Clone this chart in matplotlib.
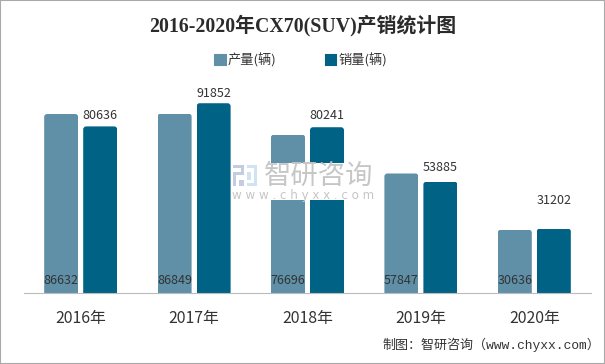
import matplotlib
matplotlib.use('Agg')
import matplotlib.pyplot as plt
import numpy as np
from matplotlib.patches import FancyBboxPatch, Patch, Rectangle
from matplotlib.transforms import IdentityTransform

W, H = 605, 364
CJK = 'Noto Sans CJK SC'

years = ['2016年', '2017年', '2018年', '2019年', '2020年']
output = [86632, 86849, 76696, 57847, 30636]
sales = [80636, 91852, 80241, 53885, 31202]
sales_label_gap = [11, 10, 12, 14, 28]

c_output = '#5F90A8'
c_sales = '#006386'
c_text = '#333333'


def px_rect(x, y, w, h, color, zorder=5):
    # y counted from the top of the picture, like in the screenshot
    fig.add_artist(Rectangle((x / W, 1 - (y + h) / H), w / W, h / H, transform=fig.transFigure,
                             facecolor=color, edgecolor='none', zorder=zorder))


def round_tops(bars, radius=3):
    fig.canvas.draw()
    for bar in bars:
        (x0, y0), (x1, y1) = bar.get_window_extent().get_points()
        clip = FancyBboxPatch((x0 + radius, y0 - 20), x1 - x0 - 2 * radius, y1 - y0 + 20 - radius,
                              boxstyle=f'round,pad={radius},rounding_size={radius}',
                              transform=IdentityTransform())
        bar.set_clip_path(clip)


plt.rcParams['font.family'] = [CJK, 'DejaVu Sans']

fig = plt.figure(figsize=(W / 100, H / 100), dpi=100, facecolor='white')
ax = fig.add_axes([24 / W, (H - 293) / H, 567 / W, 206.6 / H])

x = np.arange(len(years))
bars1 = ax.bar(x - 0.172, output, width=0.3, color=c_output, zorder=2)
bars2 = ax.bar(x + 0.172, sales, width=0.3, color=c_sales, zorder=2)
ax.set_xlim(-0.5, 4.5)
ax.set_ylim(0, 100000)

for xi, v in zip(x, output):
    ax.annotate(str(v), (xi - 0.172, 0), xytext=(0, 13), textcoords='offset pixels',
                ha='center', va='center', fontsize=9, color=c_text, zorder=3)
for xi, v, gap in zip(x, sales, sales_label_gap):
    ax.annotate(str(v), (xi + 0.172, v), xytext=(0, gap), textcoords='offset pixels',
                ha='center', va='center', fontsize=9, color=c_text, zorder=3)

for s in ['top', 'left', 'right']:
    ax.spines[s].set_visible(False)
ax.spines['bottom'].set_color('#BBBBBB')
ax.spines['bottom'].set_linestyle((0, (1, 1)))
ax.set_yticks([])
ax.set_xticks(x, years)
ax.tick_params(axis='x', length=0, pad=12.5, labelsize=11.4, labelcolor=c_text)

handles = [Patch(facecolor=c_output, edgecolor=c_output, linewidth=1.5, joinstyle='round', label='产量(辆)'),
           Patch(facecolor=c_sales, edgecolor=c_sales, linewidth=1.5, joinstyle='round', label='销量(辆)')]
fig.legend(handles=handles, ncol=2, frameon=False, loc='center', bbox_to_anchor=(301 / W, 1 - 60 / H),
           fontsize=9.5, handlelength=0.8, handleheight=0.8, handletextpad=0.15, columnspacing=3.75,
           labelcolor=c_text, borderpad=0)

fig.text(302.5 / W, 1 - 26 / H, '2016-2020年CX70(SUV)产销统计图', ha='center', va='center',
         fontsize=14.3, fontweight='bold', color='#2B2B2B', family=['Liberation Serif', CJK])
fig.text(600 / W, 1 - 345 / H, '制图：智研咨询（www.chyxx.com）', ha='right', va='center',
         fontsize=9.4, color=c_text, family=['Liberation Mono', CJK])

# watermark: white box over the bars, logo and name
px_rect(231, 163, 153, 37, 'white', zorder=4)
for r in [(233, 165, 11, 3), (241, 165, 3, 10), (233, 172, 11, 3), (233, 172, 3, 14), (239, 180, 5, 6)]:
    px_rect(*r, '#C3CCE0')
for r in [(247, 165, 10, 3), (254, 165, 3, 21), (247, 172, 4, 8), (247, 183, 10, 3)]:
    px_rect(*r, '#CFE3F3')
fig.text(264 / W, 1 - 176 / H, '智研咨询', ha='left', va='center', fontsize=19.7, color='#C6C6C6', zorder=6)
fig.text(232 / W, 1 - 195 / H, 'w w w . c h y x x . c o m', ha='left', va='center', fontsize=8.6,
         color='#C6C6C6', zorder=6, family=['DejaVu Sans'])

# picture border
fig.add_artist(Rectangle((0, 0), 1, 1, transform=fig.transFigure, fill=False,
                         edgecolor='#A9A9A9', linewidth=1.5, zorder=10))

round_tops(list(bars1) + list(bars2))
fig.savefig('out.png', dpi=100)
